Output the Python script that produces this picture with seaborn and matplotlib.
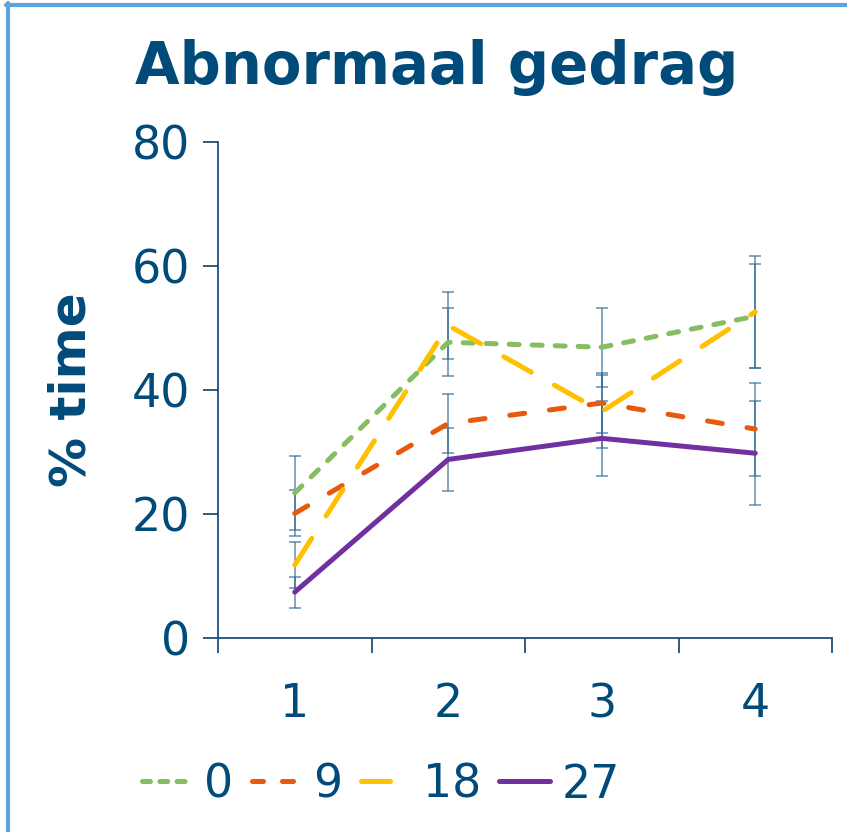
import numpy as np
import pandas as pd
import matplotlib
matplotlib.use("Agg")
import matplotlib.pyplot as plt
from matplotlib.lines import Line2D
import seaborn as sns

# data
weeks = [1, 2, 3, 4]
groups = ["0", "9", "18", "27"]
vals_0 = [23.4, 47.7, 46.9, 51.9]
vals_9 = [20.1, 34.6, 37.9, 33.7]
vals_18 = [11.8, 50.4, 36.5, 52.6]
vals_27 = [7.4, 28.8, 32.2, 29.8]
err_0 = [5.9, 5.5, 6.4, 8.4]
err_9 = [3.7, 4.7, 4.9, 7.5]
err_18 = [3.7, 5.4, 5.9, 9.0]
err_27 = [2.5, 5.1, 6.0, 8.4]

kleur = {"0": "#86bc62", "9": "#e8590c", "18": "#ffc000", "27": "#7030a0"}
streep = {"0": (2.0, 2.6), "9": (3.0, 5.0), "18": (6.3, 5.3), "27": ""}
# kortere patronen voor de legenda
streep_leg = {"0": (1.6, 1.86), "9": (2.2, 3.8), "18": (5.8, 4.4), "27": None}
tekst = "#004b7a"
asblauw = "#1f4e79"

rows = []
for g, v, e in zip(groups, [vals_0, vals_9, vals_18, vals_27], [err_0, err_9, err_18, err_27]):
    for w, y, s in zip(weeks, v, e):
        rows.append({"week": w, "groep": g, "pct": y, "sd": s})
df = pd.DataFrame(rows)

sns.set_style("white")
plt.rcParams["font.family"] = ["DejaVu Sans"]

fig = plt.figure(figsize=(8.47, 8.32), dpi=100)
ax = fig.add_axes([218 / 847, 1 - 638 / 832, 614 / 847, 496 / 832])

# foutbalken achter de lijnen
for g in groups:
    sub = df[df.groep == g]
    ax.errorbar(sub.week, sub.pct, yerr=sub.sd, fmt="none", ecolor="#2e6a96",
                elinewidth=1.1, capsize=4.3, capthick=1.1, alpha=0.75, zorder=1)

sns.lineplot(data=df, x="week", y="pct", hue="groep", style="groep",
             palette=kleur, dashes=streep, hue_order=groups, style_order=groups,
             linewidth=3.6, errorbar=None, ax=ax, zorder=3)
for ln in ax.get_lines():
    ln.set_dash_capstyle("round")
    ln.set_solid_capstyle("round")

ax.set_xlim(0.5, 4.5)
ax.set_ylim(0, 80)
ax.set_yticks([0, 20, 40, 60, 80])
ax.set_xticks([0.5, 1.5, 2.5, 3.5, 4.5])
ax.set_xticklabels([])
ax.set_xticks(weeks, minor=True)
ax.set_xticklabels([str(w) for w in weeks], minor=True)
ax.tick_params(axis="x", which="major", bottom=True, direction="out", length=11,
               width=1.3, colors=asblauw)
ax.tick_params(axis="x", which="minor", bottom=True, length=0, pad=32, labelsize=33,
               labelcolor=tekst)
ax.tick_params(axis="y", left=True, direction="out", length=11, width=1.3, colors=asblauw,
               pad=9, labelsize=33, labelcolor=tekst)

for s in ["top", "right"]:
    ax.spines[s].set_visible(False)
for s in ["left", "bottom"]:
    ax.spines[s].set_color(asblauw)
    ax.spines[s].set_linewidth(1.3)

ax.set_xlabel("")
ax.set_ylabel("% time", fontsize=36, fontweight="bold", color=tekst)
ax.yaxis.set_label_coords(-0.2, 0.5)

fig.text(0.516, 1 - 84 / 832, "Abnormaal gedrag", ha="center", va="baseline",
         fontsize=41.5, fontweight="bold", color=tekst)

handles, labels = ax.get_legend_handles_labels()
ax.legend(handles, labels, loc="center left", bbox_to_anchor=(101 / 847, 1 - 785 / 832),
          bbox_transform=fig.transFigure, ncol=4, frameon=False, fontsize=33,
          labelcolor=tekst, handlelength=1.1, handletextpad=0.25, columnspacing=0.4)
for h, g in zip(ax.get_legend().legend_handles, labels):
    h.set_linewidth(3.6)
    h.set_dash_capstyle("round")
    h.set_solid_capstyle("round")
    if streep_leg[g] is not None:
        h.set_dashes(streep_leg[g])

# lichtblauwe kaderrand links en boven
fig.add_artist(Line2D([6 / 847, 1], [1 - 5 / 832, 1 - 5 / 832], transform=fig.transFigure,
                      color="#5ba3dc", linewidth=3))
fig.add_artist(Line2D([8 / 847, 8 / 847], [0, 1 - 3 / 832], transform=fig.transFigure,
                      color="#5ba3dc", linewidth=3))

fig.savefig("out.png", dpi=100)
